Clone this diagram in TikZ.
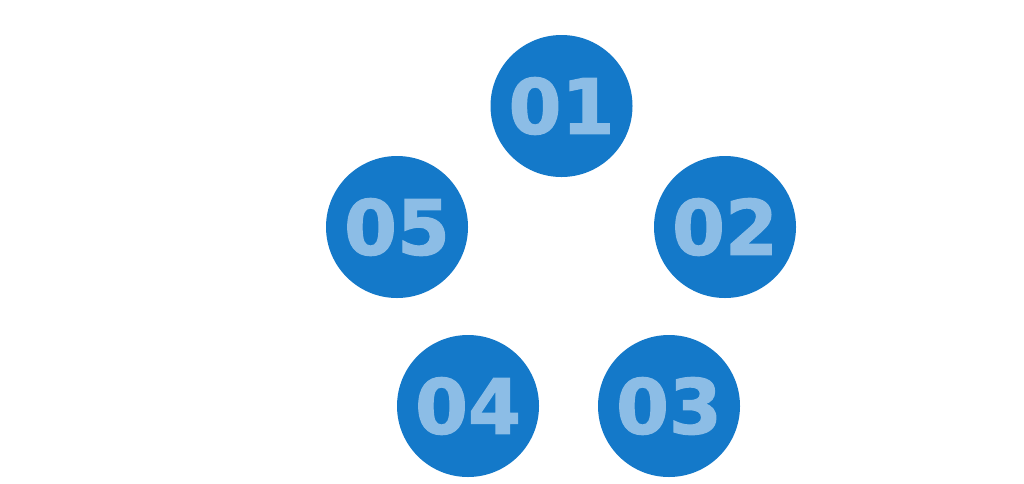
\documentclass[tikz,border=0pt]{standalone}
\usepackage{fontspec}
\newfontfamily\heavyfont[FakeBold=1.6]{DejaVu Sans Bold}
\definecolor{circblue}{HTML}{1479C9}
\definecolor{numblue}{HTML}{8CBDE6}
\begin{document}
\begin{tikzpicture}[x=1pt,y=-1pt,
  numcirc/.style={circle,fill=circblue,minimum size=142pt,inner sep=0pt,
    text=numblue,font=\heavyfont\fontsize{76}{76}\selectfont}]
\useasboundingbox[fill=white] (0,0) rectangle (1024,483);
\node[numcirc] (c1) at (561.5,106) {01};
\node[numcirc] (c2) at (725,227) {02};
\node[numcirc] (c3) at (669,406) {03};
\node[numcirc] (c4) at (468,406) {04};
\node[numcirc] (c5) at (397,227) {05};
\end{tikzpicture}
\end{document}
